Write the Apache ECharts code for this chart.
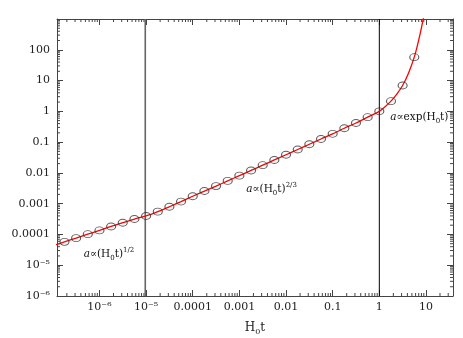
<!DOCTYPE html>
<html>
<head>
<meta charset="utf-8">
<script src="https://cdn.jsdelivr.net/npm/echarts@6/dist/echarts.min.js"></script>
<style>
  html, body { margin: 0; padding: 0; background: #fff; }
  #chart { width: 463px; height: 338px; }
</style>
</head>
<body>
<div id="chart"></div>
<script>
// sampled points (open circles), quarter-decade steps in H0 t
const tPoints = [1.78e-7, 3.16e-7, 5.62e-7, 1e-6, 1.78e-6, 3.16e-6, 5.62e-6, 1e-5,
  1.78e-5, 3.16e-5, 5.62e-5, 1e-4, 1.78e-4, 3.16e-4, 5.62e-4, 1e-3,
  1.78e-3, 3.16e-3, 5.62e-3, 0.01, 0.0178, 0.0316, 0.0562, 0.1,
  0.178, 0.316, 0.562, 1, 1.78, 3.16, 5.62];
const aPoints = [5.75e-5, 7.59e-5, 1.02e-4, 1.35e-4, 1.82e-4, 2.40e-4, 3.16e-4, 3.98e-4,
  5.50e-4, 7.94e-4, 1.17e-3, 1.74e-3, 2.57e-3, 3.72e-3, 5.50e-3, 8.13e-3,
  0.0120, 0.0178, 0.0263, 0.0389, 0.0575, 0.0851, 0.126, 0.186,
  0.282, 0.417, 0.646, 1.0, 2.14, 6.92, 57.5];

// red curve
const tCurve = [1e-7, 1.78e-7, 3.16e-7, 5.62e-7, 1e-6, 1.78e-6, 3.16e-6, 5.62e-6, 1e-5,
  1.78e-5, 3.16e-5, 5.62e-5, 1e-4, 1.78e-4, 3.16e-4, 5.62e-4, 1e-3,
  1.78e-3, 3.16e-3, 5.62e-3, 0.01, 0.0178, 0.0316, 0.0562, 0.1,
  0.178, 0.316, 0.562, 1, 1.33, 1.78, 2.37, 3.16, 4.22, 5.62, 7.5, 10];
const aCurve = [4.3e-5, 5.75e-5, 7.59e-5, 1.02e-4, 1.35e-4, 1.82e-4, 2.40e-4, 3.16e-4, 3.98e-4,
  5.50e-4, 7.94e-4, 1.17e-3, 1.74e-3, 2.57e-3, 3.72e-3, 5.50e-3, 8.13e-3,
  0.0120, 0.0178, 0.0263, 0.0389, 0.0575, 0.0851, 0.126, 0.186,
  0.282, 0.417, 0.646, 1.0, 1.41, 2.14, 3.63, 6.92, 17.4, 57.5, 330, 2800];

// vertical markers (equality, today)
const epochLines = [9.6e-6, 1];
const epochColors = ['#666', '#000'];

const xRange = [1.23e-7, 38];
const yRange = [1e-6, 1000];
const xTickValues = [1e-6, 1e-5, 1e-4, 1e-3, 0.01, 0.1, 1, 10];
const xTickLabels = ['10⁻⁶', '10⁻⁵', '0.0001', '0.001', '0.01', '0.1', '1', '10'];
const yTickValues = [1e-6, 1e-5, 1e-4, 1e-3, 0.01, 0.1, 1, 10, 100];
const yTickLabels = ['10⁻⁶', '10⁻⁵', '0.0001', '0.001', '0.01', '0.1', '1', '10', '100'];

const notes = [
  { text: '{i|a}{n|∝(H}{sub|0}{n|t)}{sup|1/2}', t: 1.6e-6, a: 2.3e-5 },
  { text: '{i|a}{n|∝(H}{sub|0}{n|t)}{sup|2/3}', t: 4.9e-3, a: 2.9e-3 },
  { text: '{i|a}{n|∝exp(H}{sub|0}{n|t)}', t: 7.2, a: 0.64 }
];

const serif = 'DejaVu Serif';
const frame = '#444';

function decadeLabel(values, labels) {
  return v => {
    const i = values.findIndex(d => Math.abs(Math.log10(v / d)) < 1e-6);
    return i < 0 ? '' : labels[i];
  };
}

// minor tick positions 2..9 per decade
function minorTicks(range) {
  const out = [];
  for (let k = Math.floor(Math.log10(range[0])); k <= Math.ceil(Math.log10(range[1])); k++) {
    for (let m = 2; m <= 9; m++) {
      const v = m * Math.pow(10, k);
      if (v > range[0] && v < range[1]) out.push(v);
    }
  }
  return out;
}

const noteRich = {
  n: { fontFamily: serif, fontSize: 10.5, color: '#111', lineHeight: 15 },
  i: { fontFamily: serif, fontSize: 10.5, fontStyle: 'italic', color: '#111', lineHeight: 15 },
  sub: { fontFamily: serif, fontSize: 7, color: '#111', verticalAlign: 'bottom', lineHeight: 9 },
  sup: { fontFamily: serif, fontSize: 7, color: '#111', verticalAlign: 'top', lineHeight: 9 }
};

function logAxis(range, pos, showLabels, extra) {
  return Object.assign({
    type: 'log',
    min: range[0],
    max: range[1],
    position: pos,
    axisLine: { show: true, lineStyle: { color: frame, width: 1 } },
    axisTick: { show: true, inside: true, length: 6, lineStyle: { color: frame } },
    splitLine: { show: false },
    axisLabel: { show: showLabels }
  }, extra || {});
}

const epochSeries = epochLines.map((x, i) => ({
  type: 'line',
  data: [[x, yRange[0]], [x, yRange[1]]],
  showSymbol: false,
  silent: true,
  lineStyle: { color: epochColors[i], width: i === 0 ? 1.6 : 1 },
  z: 2
}));

const chart = echarts.init(document.getElementById('chart'));
chart.setOption({
  animation: false,
  backgroundColor: '#fff',
  grid: { left: 57, right: 10, top: 19, bottom: 42, containLabel: false, outerBoundsMode: 'none' },
  xAxis: [
    logAxis(xRange, 'bottom', true, {
      axisLabel: {
        formatter: decadeLabel(xTickValues, xTickLabels),
        fontFamily: serif, fontSize: 11, color: '#222', margin: 6
      },
      name: '{h|H}{s|0}{h|t}',
      nameLocation: 'middle',
      nameGap: 24,
      nameTextStyle: {
        rich: {
          h: { fontFamily: serif, fontSize: 12, color: '#222', lineHeight: 16 },
          s: { fontFamily: serif, fontSize: 8, color: '#222', verticalAlign: 'bottom', lineHeight: 10 }
        }
      }
    }),
    logAxis(xRange, 'top', false)
  ],
  yAxis: [
    logAxis(yRange, 'left', true, {
      axisLabel: {
        formatter: decadeLabel(yTickValues, yTickLabels),
        fontFamily: serif, fontSize: 11, color: '#222', margin: 7
      },
      name: 'scale factor',
      nameLocation: 'middle',
      nameRotate: 90,
      nameGap: 41,
      nameTextStyle: { fontFamily: serif, fontSize: 14, color: '#222' }
    }),
    logAxis(yRange, 'right', false)
  ],
  series: epochSeries.concat([
    {
      type: 'line',
      data: tCurve.map((t, i) => [t, aCurve[i]]),
      showSymbol: false,
      smooth: 0.3,
      lineStyle: { color: '#ff0000', width: 1.3 },
      z: 3,
      markPoint: {
        silent: true,
        symbol: 'circle',
        symbolSize: 1,
        itemStyle: { color: 'rgba(0,0,0,0)' },
        label: {
          show: true,
          position: 'inside',
          formatter: p => p.data.text,
          rich: noteRich
        },
        data: notes.map(n => ({ coord: [n.t, n.a], text: n.text }))
      }
    },
    {
      type: 'scatter',
      data: tPoints.map((t, i) => [t, aPoints[i]]),
      symbol: 'circle',
      symbolSize: [9, 7],
      itemStyle: { color: 'rgba(0,0,0,0)', borderColor: '#333', borderWidth: 1 },
      z: 4
    },
    {
      type: 'custom',
      silent: true,
      data: minorTicks(xRange).map(v => [v, 1]),
      renderItem: (params, api) => {
        const v = api.value(0);
        const b = api.coord([v, yRange[0]]);
        const t = api.coord([v, yRange[1]]);
        const style = { stroke: frame, lineWidth: 1 };
        return {
          type: 'group',
          children: [
            { type: 'line', shape: { x1: b[0], y1: b[1], x2: b[0], y2: b[1] - 3 }, style },
            { type: 'line', shape: { x1: t[0], y1: t[1], x2: t[0], y2: t[1] + 3 }, style }
          ]
        };
      }
    },
    {
      type: 'custom',
      silent: true,
      data: minorTicks(yRange).map(v => [1, v]),
      renderItem: (params, api) => {
        const v = api.value(1);
        const l = api.coord([xRange[0], v]);
        const r = api.coord([xRange[1], v]);
        const style = { stroke: frame, lineWidth: 1 };
        return {
          type: 'group',
          children: [
            { type: 'line', shape: { x1: l[0], y1: l[1], x2: l[0] + 3, y2: l[1] }, style },
            { type: 'line', shape: { x1: r[0], y1: r[1], x2: r[0] - 3, y2: r[1] }, style }
          ]
        };
      }
    }
  ])
});
</script>
</body>
</html>
